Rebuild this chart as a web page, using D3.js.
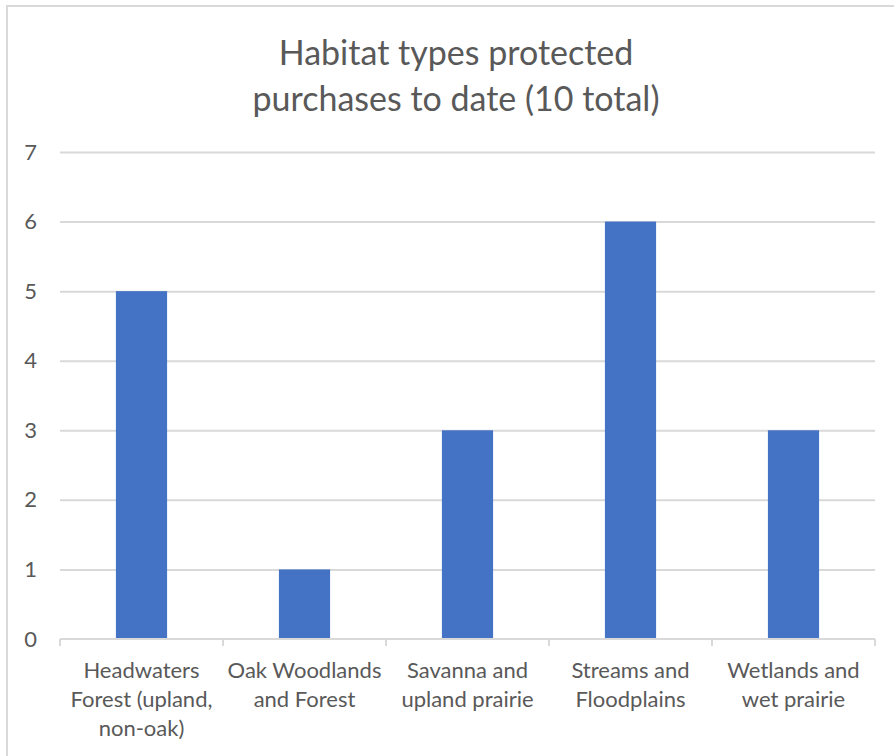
<!DOCTYPE html>
<html>
<head>
<meta charset="utf-8">
<script src="https://cdn.jsdelivr.net/npm/d3@7"></script>
<style>
  body { margin: 0; background: #fff; }
  svg { display: block; }
</style>
</head>
<body>
<script>
// données
const categories = ["Headwaters Forest (upland, non-oak)", "Oak Woodlands and Forest", "Savanna and upland prairie", "Streams and Floodplains", "Wetlands and wet prairie"];
const categoryLines = [
  ["Headwaters", "Forest (upland,", "non-oak)"],
  ["Oak Woodlands", "and Forest"],
  ["Savanna and", "upland prairie"],
  ["Streams and", "Floodplains"],
  ["Wetlands and", "wet prairie"]
];
const values = [5, 1, 3, 6, 3];
const yTicks = [0, 1, 2, 3, 4, 5, 6, 7];
const titleLines = ["Habitat types protected", "purchases to date (10 total)"];

const width = 894, height = 756;
const margin = {top: 152, right: 19, bottom: 117, left: 60};
const font = "Lato, 'Open Sans', sans-serif";
const textColor = "#595959";

const svg = d3.select("body").append("svg")
    .attr("width", width)
    .attr("height", height)
    .style("font-family", font);

// cadre du graphique
svg.append("rect")
    .attr("x", 7).attr("y", 6)
    .attr("width", width + 10).attr("height", height + 10)
    .attr("fill", "#fff")
    .attr("stroke", "#d9d9d9")
    .attr("stroke-width", 2);

const x = d3.scaleBand()
    .domain(categories)
    .range([margin.left, width - margin.right])
    .paddingInner(0.686)
    .paddingOuter(0.343);

const xGroup = d3.scaleBand()
    .domain(categories)
    .range([margin.left, width - margin.right]);

const y = d3.scaleLinear()
    .domain([0, 7])
    .range([height - margin.bottom, margin.top]);

// titre
svg.append("g")
    .attr("fill", textColor)
    .attr("text-anchor", "middle")
    .attr("font-size", 34)
    .selectAll("text")
    .data(titleLines)
    .join("text")
    .attr("x", 456)
    .attr("y", (d, i) => 65 + i * 46)
    .text(d => d);

// grille horizontale
const yAxis = svg.append("g")
    .attr("transform", `translate(${margin.left},0)`)
    .call(d3.axisLeft(y).tickValues(yTicks).tickFormat(d3.format("d"))
        .tickSize(-(width - margin.left - margin.right)).tickPadding(23));
yAxis.select(".domain").remove();
yAxis.selectAll(".tick line")
    .attr("stroke", d => d === 0 ? "none" : "#d9d9d9")
    .attr("stroke-width", 2);
yAxis.selectAll(".tick text")
    .attr("fill", textColor)
    .attr("font-size", 22)
    .attr("font-family", font);

// barres
svg.append("g")
    .attr("fill", "#4472c4")
    .selectAll("rect")
    .data(values)
    .join("rect")
    .attr("x", (d, i) => x(categories[i]))
    .attr("y", d => y(d))
    .attr("width", x.bandwidth())
    .attr("height", d => y(0) - y(d));

// axe des catégories
const xAxis = svg.append("g")
    .attr("transform", `translate(0,${y(0)})`);
xAxis.append("line")
    .attr("x1", margin.left).attr("x2", width - margin.right)
    .attr("stroke", "#d9d9d9").attr("stroke-width", 2);
const bounds = categories.map(c => xGroup(c)).concat([width - margin.right]);
xAxis.selectAll("line.tk")
    .data(bounds)
    .join("line")
    .attr("class", "tk")
    .attr("x1", d => d).attr("x2", d => d)
    .attr("y1", 0).attr("y2", 7)
    .attr("stroke", "#d9d9d9").attr("stroke-width", 2);

const labels = xAxis.selectAll("text")
    .data(categoryLines)
    .join("text")
    .attr("fill", textColor)
    .attr("font-size", 22)
    .attr("text-anchor", "middle")
    .attr("transform", (d, i) => `translate(${xGroup(categories[i]) + xGroup.bandwidth() / 2},0)`);
labels.selectAll("tspan")
    .data(d => d)
    .join("tspan")
    .attr("x", 0)
    .attr("y", (d, i) => 39 + i * 29)
    .text(d => d);
</script>
</body>
</html>
